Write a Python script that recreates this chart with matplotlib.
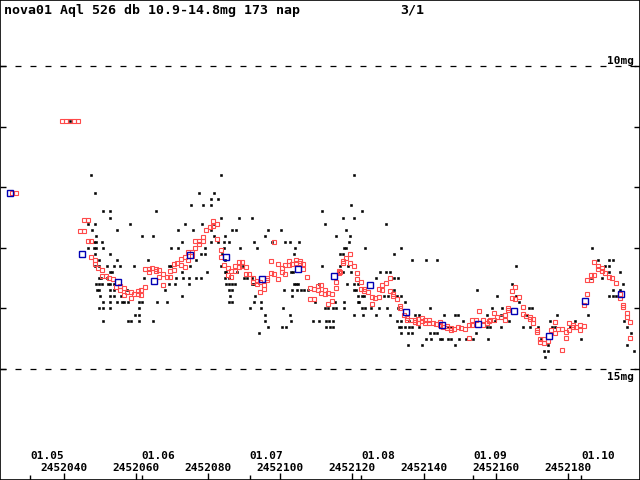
import numpy as np
import matplotlib
matplotlib.use("Agg")
import matplotlib.pyplot as plt

JD0 = 2452000

# visual estimates (black dots), written row by row: magnitude, days (JD - 2452000)
vis_rows = [
    (10.9, [41.5]),
    (11.8, [47.4, 83.5, 120.4]),
    (12.1, [48.5, 77.4, 81.5]),
    (12.2, [80.7, 82.7]),
    (12.3, [75.2, 78.5, 80.7, 119.6]),
    (12.4, [50.7, 52.7, 65.4, 111.5, 122.7]),
    (12.5, [52.7, 83.5, 88.5, 92.1, 117.4, 120.4]),
    (12.6, [46.5, 48.5, 58.2, 73.5, 78.2, 81.5, 112.4, 129.3]),
    (12.7, [47.7, 54.6, 71.5, 75.7, 80.7, 86.5, 87.7, 96.5, 100.2, 118.2]),
    (12.8, [48.8, 61.5, 64.6, 81.5, 84.6, 95.7, 115.4, 119.3]),
    (12.9, [48.2, 48.8, 50.4, 72.7, 80.7, 82.7, 84.3, 85.7, 92.7, 97.7, 101.3,
            102.7, 105.2, 119.0]),
    (13.0, [46.5, 48.2, 48.8, 50.7, 69.6, 71.5, 79.0, 84.3, 88.8, 93.5, 104.0,
            117.7, 118.2, 123.5, 133.5, 186.5]),
    (13.1, [48.5, 52.7, 77.9, 79.0, 83.8, 103.8, 116.5, 117.4, 131.5]),
    (13.2, [49.6, 54.6, 63.2, 76.5, 84.6, 136.5, 140.4, 143.5, 188.2, 191.3, 192.4]),
    (13.3, [48.5, 49.6, 51.8, 53.8, 55.4, 59.3, 69.0, 69.6, 74.9, 83.5, 89.6,
            111.5, 116.5, 118.8, 165.4, 190.2, 191.3]),
    (13.4, [52.7, 53.2, 72.7, 79.6, 84.6, 84.9, 87.9, 102.9, 103.5, 116.0, 117.4,
            119.6, 127.7, 129.3, 130.4, 191.3, 194.3]),
    (13.5, [49.6, 50.2, 51.8, 62.1, 71.0, 72.9, 74.6, 76.5, 77.9, 84.6, 85.7,
            89.9, 90.7, 92.1, 126.5, 131.5, 132.7, 186.3, 189.3]),
    (13.6, [48.8, 49.6, 50.4, 52.1, 52.7, 53.8, 69.0, 70.7, 74.6, 84.9, 85.7,
            86.5, 87.4, 92.1, 92.7, 103.8, 104.3, 104.9, 110.7, 118.5, 120.4,
            121.5, 164.3, 195.2]),
    (13.7, [49.0, 49.6, 52.7, 53.8, 57.4, 67.9, 85.7, 86.5, 101.0, 103.2, 104.6,
            105.7, 106.5, 107.7, 120.4, 121.0, 131.5, 154.6, 192.4, 194.3]),
    (13.8, [49.9, 52.7, 53.8, 55.7, 72.7, 86.0, 92.9, 103.2, 121.5, 122.7, 123.2,
            128.8, 129.9, 132.4, 133.5, 160.2, 165.4, 191.3, 192.4, 193.2]),
    (13.9, [50.7, 52.7, 54.6, 56.0, 56.5, 57.7, 60.7, 61.5, 65.7, 68.5, 85.7,
            86.5, 92.7, 94.6, 109.6, 115.2, 117.7, 121.5, 121.8, 134.6, 166.3]),
    (14.0, [49.6, 50.7, 52.7, 60.7, 91.5, 94.6, 100.7, 112.4, 113.2, 114.6,
            115.4, 117.7, 122.7, 123.5, 125.2, 127.4, 129.6, 132.7, 141.5, 158.8,
            161.5, 169.0, 169.9]),
    (14.1, [59.6, 60.7, 95.7, 102.7, 120.4, 122.9, 126.5, 130.4, 137.4, 138.5,
            145.4, 148.5, 149.3, 157.4, 161.3, 168.5, 176.8, 185.4]),
    (14.2, [50.7, 57.7, 58.5, 60.7, 64.6, 95.7, 102.9, 109.0, 110.7, 112.7,
            113.5, 114.6, 132.4, 133.5, 135.7, 150.7, 159.6, 163.5, 174.9, 181.8,
            195.4]),
    (14.3, [96.5, 100.4, 101.5, 112.7, 113.8, 114.6, 132.9, 133.5, 134.6, 135.7,
            136.5, 138.5, 146.5, 147.4, 157.4, 158.2, 161.3, 167.4, 169.3, 171.5,
            175.4, 176.3, 180.4, 196.3]),
    (14.4, [94.0, 133.5, 135.4, 136.5, 141.5, 142.7, 143.5, 154.3, 197.4]),
    (14.5, [140.4, 141.8, 144.3, 144.9, 146.5, 147.4, 149.6, 151.5, 153.5, 157.7,
            172.4, 183.5]),
    (14.6, [135.4, 139.3, 148.5, 174.3, 196.3]),
    (14.7, [173.2, 174.3, 198.2]),
    (14.8, [173.5]),
]

# 1-day means (red squares): day, magnitude
mean_day = [
    25.4, 26.5, 39.3, 40.4, 41.5, 42.7, 43.8,
    45.4, 46.5, 44.3, 45.4, 46.5, 47.4, 47.4, 48.5, 48.5, 49.3, 50.4, 50.4, 51.5,
    52.4, 53.5, 54.3, 55.4, 55.4, 56.5, 57.4, 56.5, 58.5, 58.5, 59.3, 60.4, 61.3,
    60.4, 61.3, 62.4, 62.4, 63.5, 63.5, 64.3, 65.4, 65.4, 66.3, 66.3, 67.4, 67.4,
    68.5, 69.3, 69.3, 70.4, 70.4, 71.3, 72.4, 73.5, 72.4, 73.5, 74.3, 74.3, 75.4,
    75.4, 76.3, 76.3, 77.4, 77.4, 78.5, 78.5, 79.3, 80.4, 81.3, 81.3, 82.4, 82.4,
    83.5, 83.5, 84.3, 85.4, 86.3, 87.4, 87.4, 88.5, 88.5, 89.3, 89.3, 90.4, 85.4,
    86.3, 90.4, 91.3, 92.4, 92.4, 93.5, 93.5, 94.3, 95.4, 95.4, 94.3, 96.3, 96.3,
    97.4, 97.4, 98.2, 99.3, 98.2, 99.3, 100.4, 100.4, 101.3, 101.3, 102.4, 102.4,
    103.2, 104.3, 104.3, 105.4, 105.4, 106.3, 106.3, 107.4, 108.2, 109.3, 110.4,
    111.3, 110.4, 111.3, 112.4, 112.4, 113.2, 114.3, 115.4, 115.4, 114.3, 113.2,
    109.3, 108.2, 116.3, 116.3, 117.4, 117.4,
    119.3, 118.2, 119.3, 120.4, 116.5, 121.3, 121.3, 122.4, 122.4, 123.2, 123.2,
    124.3, 125.4, 126.3, 127.4, 125.4, 127.4, 128.2, 128.2, 129.3, 130.4, 130.4,
    131.3, 131.3, 132.4, 133.2, 133.2, 134.3, 135.2, 135.2, 136.3, 137.4, 137.4,
    138.2, 138.2, 139.3, 139.3, 140.2, 140.2, 141.3, 141.3, 142.4, 143.2, 144.3,
    144.3, 145.2, 146.3, 146.3, 147.4, 147.4, 148.2, 149.3, 150.2, 151.3, 152.4,
    153.2, 153.2, 154.3, 155.2, 156.3, 156.3, 157.4, 157.9, 152.4,
    158.2, 159.3, 159.3, 160.2, 161.3, 162.4, 162.4, 163.2, 163.2, 164.3, 165.2,
    164.3, 165.2, 166.3, 167.4, 167.4, 168.2, 169.3, 169.3, 170.2, 170.2, 171.3,
    171.3, 172.1, 172.1, 173.2, 173.2, 174.3, 175.2, 176.3, 176.3, 177.1, 178.2,
    179.3, 179.3, 180.2, 180.2, 181.3, 181.3, 182.1, 183.2, 183.2, 184.3, 178.2,
    184.3, 185.2, 185.2, 186.3, 186.3, 187.1, 187.1, 188.2, 188.2, 189.3, 189.3,
    190.2, 191.3, 192.1, 193.2, 194.3, 194.3, 195.2, 195.2, 196.3, 196.3, 197.1,
    197.1,
]
mean_mag = [
    12.10, 12.10, 10.91, 10.91, 10.91, 10.91, 10.91,
    12.54, 12.54, 12.72, 12.72, 12.89, 12.89, 13.15, 13.20, 13.27, 13.33, 13.37,
    13.47, 13.47, 13.50, 13.51, 13.65, 13.63, 13.70, 13.66, 13.73, 13.78, 13.73,
    13.83, 13.76, 13.71, 13.70, 13.76, 13.78, 13.65, 13.35, 13.35, 13.40, 13.33,
    13.35, 13.38, 13.37, 13.48, 13.43, 13.61, 13.48, 13.48, 13.38, 13.37, 13.27,
    13.25, 13.28, 13.32, 13.18, 13.15, 13.20, 13.07, 13.07, 13.14, 13.00, 12.89,
    12.89, 12.94, 12.89, 12.82, 12.71, 12.66, 12.56, 12.64, 12.61, 12.85,
    13.04, 13.15, 13.28, 13.33, 13.38, 13.30, 13.38, 13.32, 13.23, 13.23, 13.30,
    13.32, 13.45, 13.48, 13.43, 13.43, 13.50, 13.56, 13.55, 13.60, 13.56, 13.61,
    13.68, 13.73, 13.50, 13.53, 13.22, 13.42, 13.43, 13.51, 12.90, 13.27, 13.33,
    13.40, 13.28, 13.43, 13.22, 13.28, 13.27, 13.20, 13.25, 13.22, 13.25, 13.27,
    13.35, 13.48, 13.66, 13.68, 13.70, 13.61, 13.63, 13.75, 13.70, 13.76, 13.75,
    13.76, 13.66, 13.56, 13.88, 13.93, 13.84, 13.84, 13.38, 13.42, 13.22, 13.25,
    13.10, 13.17, 13.25, 13.30, 13.40, 13.42, 13.51, 13.56, 13.68, 13.68, 13.71,
    13.73, 13.81, 13.83, 13.81, 13.93, 13.68, 13.70, 13.61, 13.58, 13.50, 13.71,
    13.76, 13.80, 13.84, 13.96, 13.99, 14.11, 14.16, 14.19, 14.19, 14.19, 14.22,
    14.17, 14.24, 14.16, 14.21, 14.19, 14.24, 14.19, 14.24, 14.24, 14.26, 14.22,
    14.27, 14.31, 14.32, 14.29, 14.32, 14.36, 14.34, 14.31, 14.32, 14.34, 14.27,
    14.27, 14.19, 14.19, 14.04, 14.19, 14.27, 14.24, 14.21, 14.49,
    14.19, 14.19, 14.08, 14.14, 14.14, 14.11, 14.19, 13.99, 14.03, 13.71, 13.65,
    13.83, 13.84, 13.81, 13.98, 14.09, 14.13, 14.14, 14.17, 14.17, 14.24, 14.36,
    14.39, 14.50, 14.55, 14.50, 14.57, 14.54, 14.36, 14.22, 14.41, 14.34, 14.34,
    14.39, 14.49, 14.24, 14.36, 14.27, 14.31, 14.31, 14.27, 14.36, 14.29, 14.69,
    13.94, 13.76, 13.53, 13.53, 13.45, 13.45, 13.23, 13.30, 13.35, 13.33, 13.38,
    13.42, 13.48, 13.50, 13.58, 13.83, 13.76, 13.94, 13.98, 14.08, 14.14, 14.22,
    14.49,
]

# 10-day means (blue squares)
ten_day = [24.9, 44.9, 54.9, 64.9, 74.9, 84.9, 94.9, 104.9, 114.9, 124.9, 134.9,
           144.9, 154.9, 164.9, 174.7, 184.7, 194.7]
ten_mag = [12.10, 13.10, 13.56, 13.55, 13.12, 13.15, 13.51, 13.35, 13.47, 13.61,
           14.06, 14.27, 14.26, 14.04, 14.46, 13.88, 13.76]

month_jd = [2452030.5, 2452061.5, 2452091.5, 2452122.5, 2452153.5, 2452183.5]
month_lbl = ["01.05", "01.06", "01.07", "01.08", "01.09", "01.10"]
jd_ticks = [2452040, 2452060, 2452080, 2452100, 2452120, 2452140, 2452160, 2452180]

title = "nova01 Aql 526 db 10.9-14.8mg 173 nap"

vis_day = [d for m, ds in vis_rows for d in ds]
vis_mag = [m for m, ds in vis_rows for d in ds]

plt.rcParams['lines.scale_dashes'] = False
font = dict(family="DejaVu Sans Mono", fontweight="bold", fontsize=9.5)
small = dict(family="DejaVu Sans Mono", fontweight="bold", fontsize=8)

fig = plt.figure(figsize=(6.4, 4.8), dpi=100)
ax = fig.add_axes([0, 0, 1, 1])
ax.set_xlim(2452022.1, 2452199.9)
ax.set_ylim(16.83, 8.911)

ax.plot(np.array(vis_day) + JD0, vis_mag, 's', color='black', ms=1.6, mew=0.4,
        antialiased=False, zorder=3)
ax.plot(np.array(mean_day) + JD0, mean_mag, 's', mfc='none', mec='#ff4a4a',
        ms=2.3, mew=0.8, antialiased=False, zorder=4)
ax.plot(np.array(ten_day) + JD0, ten_mag, 's', mfc='none', mec='#0000b4',
        ms=4.2, mew=1.0, antialiased=False, zorder=5)

for m in (10, 15):
    ax.axhline(m, color='black', lw=0.9, ls=(0, (4.3, 6.5)), zorder=2)
ax.text(0.99, 10, "10mg", transform=ax.get_yaxis_transform(), ha='right',
        va='bottom', **small)
ax.text(0.99, 15.04, "15mg", transform=ax.get_yaxis_transform(), ha='right',
        va='top', **small)

ax.set_yticks([10, 11, 12, 13, 14, 15])
ax.tick_params(axis='y', which='both', direction='in', length=4, width=1,
               left=True, right=True, labelleft=False)
ax.set_xticks(jd_ticks)
ax.set_xticks(month_jd, minor=True)
ax.tick_params(axis='x', which='major', direction='in', length=5, width=1,
               labelbottom=False)
ax.tick_params(axis='x', which='minor', direction='in', length=3.5, width=1)

xt = ax.get_xaxis_transform()
for j in jd_ticks:
    ax.text(j, 0.024, str(j), transform=xt, ha='center', va='center', **small)
for j, lbl in zip(month_jd, month_lbl):
    ax.text(j, 0.050, lbl, transform=xt, ha='left', va='center', **small)

ax.text(0.006, 0.979, title, transform=ax.transAxes, ha='left', va='center', **font)
ax.text(0.625, 0.979, "3/1", transform=ax.transAxes, ha='left', va='center', **font)

for s in ax.spines.values():
    s.set_linewidth(1.2)

fig.savefig("out.png", dpi=100)
